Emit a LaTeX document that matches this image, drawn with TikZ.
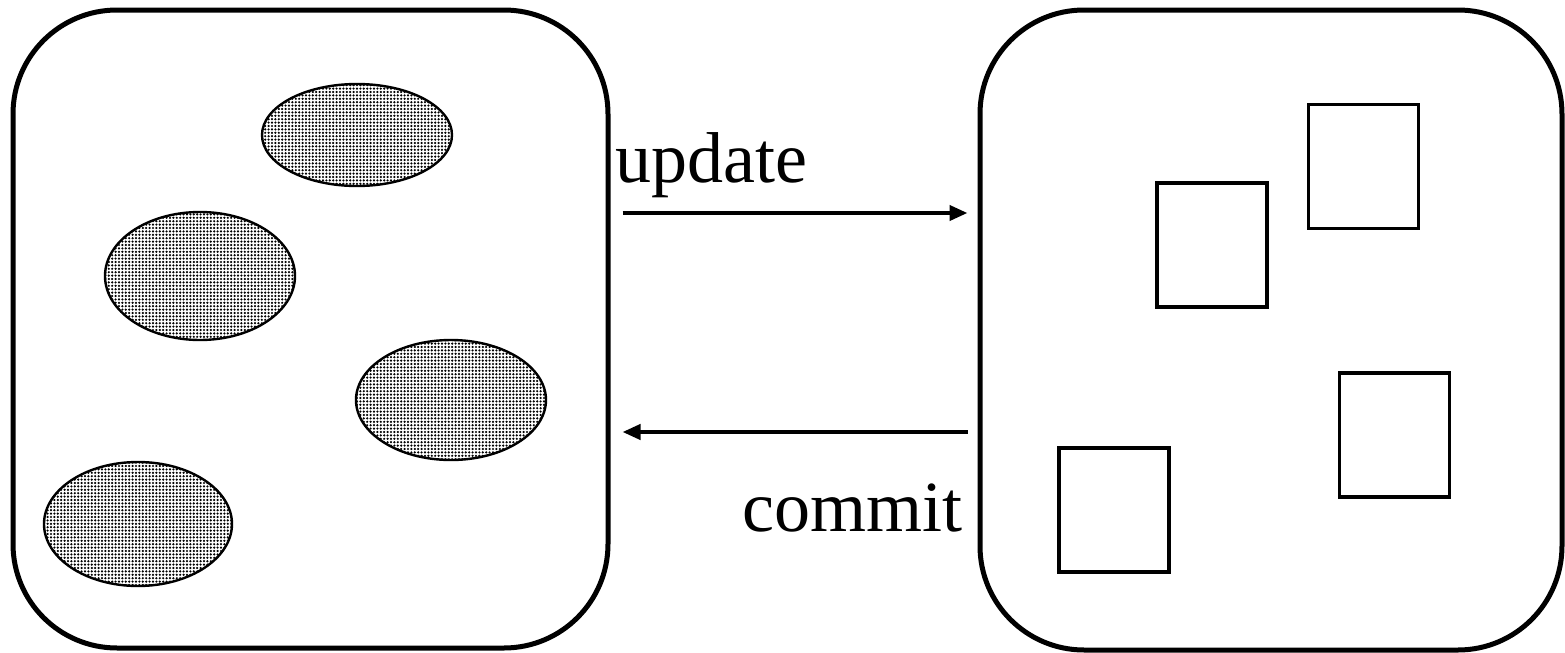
\documentclass[tikz,border=0pt]{standalone}
\usepackage{fontspec}
\setmainfont{Liberation Serif}
\usetikzlibrary{arrows.meta,shapes.geometric,patterns.meta}
\begin{document}
\begin{tikzpicture}[x=0.5pt,y=-0.5pt,
  store/.style={draw,line width=2.5pt,rounded corners=52pt,rectangle,inner sep=0pt},
  obj/.style={draw,line width=1.2pt,ellipse,inner sep=0pt,
    pattern={Dots[distance=1.7pt,radius=0.62pt]}},
  item/.style={draw,line width=1.6pt,rectangle,inner sep=0pt,
    minimum width=55pt,minimum height=62pt},
  flow/.style={line width=2pt,-{Triangle[length=9pt,width=7.5pt]}},
  lbl/.style={font=\fontsize{36}{43}\selectfont,inner sep=0pt}]
\useasboundingbox (0,0) rectangle (1565,653);
% the two containers
\node[store,minimum width=297.5pt,minimum height=319pt] (L) at (310.5,329) {};
\node[store,minimum width=291pt,minimum height=320pt] (R) at (1271,330) {};
% dotted objects in the left container
\node[obj,minimum width=95pt,minimum height=51pt] (e1) at (357,135) {};
\node[obj,minimum width=95pt,minimum height=64pt] (e2) at (200,276) {};
\node[obj,minimum width=95pt,minimum height=60pt] (e3) at (451,400) {};
\node[obj,minimum width=94pt,minimum height=62pt] (e4) at (138,524) {};
% plain objects in the right container
\node[item] (b1) at (1212,245) {};
\node[item] (b2) at (1363.5,166.5) {};
\node[item] (b3) at (1394.5,435) {};
\node[item] (b4) at (1114,510) {};
% transfers between the containers
\draw[flow] ([xshift=6pt]L.east |- 0,213) -- ([xshift=-5pt]R.west |- 0,213);
\draw[flow] ([xshift=-5pt]R.west |- 0,432) -- ([xshift=6pt]L.east |- 0,432);
\node[lbl,anchor=base west] (up) at (615,182) {update};
\node[lbl,anchor=base east] (cm) at (963,531) {commit};
\end{tikzpicture}
\end{document}
